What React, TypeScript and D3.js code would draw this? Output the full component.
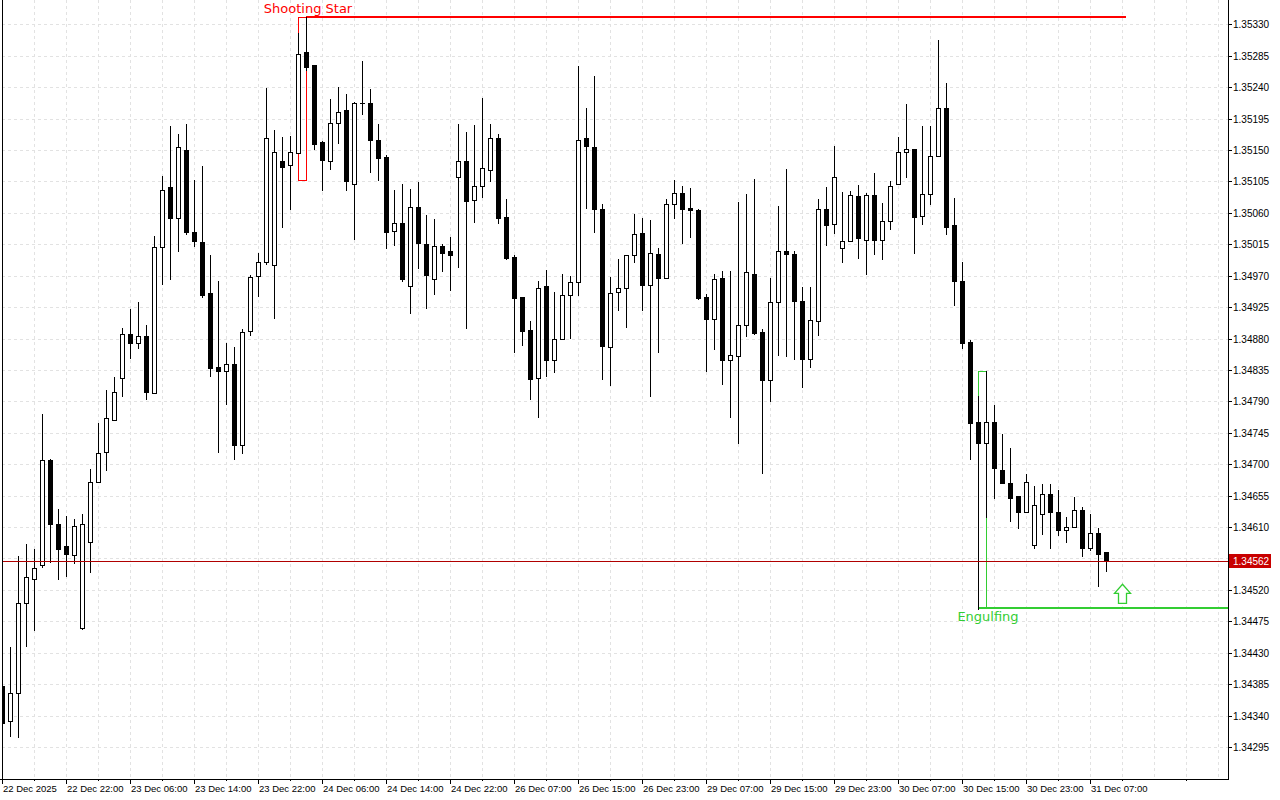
import React from "react";
import * as d3 from "d3";

const opens = [
  1.34382, 1.34332, 1.34373, 1.34501, 1.34535, 1.34555, 1.34706, 1.34615, 1.34583, 1.34570,
  1.34465, 1.34588, 1.34675, 1.34717, 1.34764, 1.34824, 1.34886, 1.34873, 1.34884, 1.34802,
  1.35011, 1.35097, 1.35052, 1.35150, 1.35033, 1.35018, 1.34945, 1.34839, 1.34834, 1.34844,
  1.34728, 1.34891, 1.34969, 1.34989, 1.34985, 1.35134, 1.35129, 1.35145, 1.35290, 1.35271,
  1.35162, 1.35134, 1.35188, 1.35207, 1.35101, 1.35218, 1.35217, 1.35165, 1.35140, 1.35034,
  1.35045, 1.34955, 1.35068, 1.35016, 1.34965, 1.35012, 1.35005, 1.35112, 1.35134, 1.35078,
  1.35099, 1.35122, 1.35167, 1.35054, 1.34997, 1.34939, 1.34892, 1.34824, 1.34955, 1.34849,
  1.34879, 1.34942, 1.34961, 1.35167, 1.35154, 1.35065, 1.34868, 1.34946, 1.34953, 1.34999,
  1.35031, 1.34956, 1.35001, 1.34966, 1.35072, 1.35088, 1.35067, 1.35064, 1.34939, 1.34908,
  1.34966, 1.34849, 1.34855, 1.34899, 1.34973, 1.34889, 1.34820, 1.34932, 1.35006, 1.35001,
  1.34934, 1.34851, 1.34905, 1.35065, 1.35044, 1.35009, 1.35019, 1.35084, 1.35021, 1.35085,
  1.35021, 1.35048, 1.35101, 1.35147, 1.35152, 1.35056, 1.35087, 1.35141, 1.35210, 1.35042,
  1.34962, 1.34875, 1.34760, 1.34730, 1.34761, 1.34692, 1.34673, 1.34654, 1.34632, 1.34585,
  1.34628, 1.34658, 1.34632, 1.34606, 1.34610, 1.34635, 1.34580, 1.34601, 1.34574,
];

const highs = [
  1.34391, 1.34438, 1.34568, 1.34586, 1.34579, 1.34772, 1.34708, 1.34636, 1.34626, 1.34621,
  1.34628, 1.34693, 1.34759, 1.34806, 1.34825, 1.34895, 1.34922, 1.34932, 1.34899, 1.35027,
  1.35113, 1.35184, 1.35173, 1.35187, 1.35107, 1.35127, 1.35000, 1.34963, 1.34874, 1.34868,
  1.34893, 1.34971, 1.35002, 1.35239, 1.35179, 1.35168, 1.35170, 1.35317, 1.35340, 1.35271,
  1.35163, 1.35223, 1.35240, 1.35230, 1.35219, 1.35277, 1.35237, 1.35187, 1.35143, 1.35093,
  1.35102, 1.35094, 1.35104, 1.35057, 1.35051, 1.35016, 1.35025, 1.35187, 1.35176, 1.35186,
  1.35225, 1.35187, 1.35173, 1.35080, 1.35000, 1.34939, 1.34905, 1.34962, 1.34978, 1.34947,
  1.34973, 1.34970, 1.35270, 1.35210, 1.35256, 1.35072, 1.34968, 1.34994, 1.34999, 1.35059,
  1.35053, 1.35050, 1.35010, 1.35080, 1.35107, 1.35098, 1.35095, 1.35066, 1.34944, 1.34972,
  1.34976, 1.34977, 1.35075, 1.35087, 1.35108, 1.34894, 1.34967, 1.35070, 1.35123, 1.35005,
  1.34954, 1.34954, 1.35080, 1.35097, 1.35155, 1.35090, 1.35091, 1.35100, 1.35089, 1.35117,
  1.35074, 1.35106, 1.35168, 1.35216, 1.35152, 1.35185, 1.35185, 1.35307, 1.35246, 1.35081,
  1.34990, 1.34878, 1.34797, 1.34833, 1.34785, 1.34743, 1.34723, 1.34654, 1.34686, 1.34669,
  1.34671, 1.34671, 1.34663, 1.34624, 1.34653, 1.34639, 1.34629, 1.34608, 1.34574,
];

const lows = [
  1.34322, 1.34311, 1.34310, 1.34440, 1.34463, 1.34553, 1.34560, 1.34536, 1.34540, 1.34559,
  1.34464, 1.34546, 1.34674, 1.34691, 1.34763, 1.34798, 1.34852, 1.34866, 1.34794, 1.34802,
  1.34958, 1.34965, 1.35005, 1.35029, 1.35013, 1.34940, 1.34827, 1.34718, 1.34786, 1.34707,
  1.34716, 1.34885, 1.34941, 1.34987, 1.34909, 1.35039, 1.35065, 1.35145, 1.35264, 1.35151,
  1.35092, 1.35123, 1.35160, 1.35092, 1.35023, 1.35202, 1.35119, 1.35107, 1.35009, 1.35014,
  1.34963, 1.34917, 1.34981, 1.34924, 1.34944, 1.34977, 1.34949, 1.34982, 1.34895, 1.35047,
  1.35082, 1.35105, 1.35046, 1.34994, 1.34861, 1.34871, 1.34794, 1.34768, 1.34827, 1.34832,
  1.34879, 1.34881, 1.34942, 1.35067, 1.35032, 1.34822, 1.34814, 1.34921, 1.34897, 1.34989,
  1.34921, 1.34798, 1.34861, 1.34966, 1.35052, 1.35017, 1.35026, 1.34936, 1.34834, 1.34865,
  1.34815, 1.34768, 1.34731, 1.34884, 1.34886, 1.34688, 1.34791, 1.34856, 1.34855, 1.34851,
  1.34811, 1.34839, 1.34885, 1.35014, 1.35031, 1.34990, 1.35019, 1.34995, 1.34972, 1.35001,
  1.34994, 1.35037, 1.35101, 1.35112, 1.35003, 1.35044, 1.35072, 1.35141, 1.35029, 1.34928,
  1.34866, 1.34708, 1.34493, 1.34625, 1.34651, 1.34673, 1.34618, 1.34608, 1.34632, 1.34580,
  1.34600, 1.34580, 1.34599, 1.34588, 1.34610, 1.34569, 1.34577, 1.34526, 1.34547,
];

const closes = [
  1.34330, 1.34372, 1.34501, 1.34538, 1.34552, 1.34706, 1.34615, 1.34578, 1.34572, 1.34611,
  1.34614, 1.34675, 1.34716, 1.34766, 1.34803, 1.34886, 1.34874, 1.34883, 1.34804, 1.35011,
  1.35092, 1.35052, 1.35154, 1.35033, 1.35019, 1.34942, 1.34838, 1.34834, 1.34844, 1.34728,
  1.34890, 1.34968, 1.34989, 1.35167, 1.35147, 1.35126, 1.35147, 1.35287, 1.35269, 1.35159,
  1.35135, 1.35188, 1.35205, 1.35105, 1.35217, 1.35218, 1.35165, 1.35139, 1.35032, 1.35045,
  1.34965, 1.35068, 1.35017, 1.34971, 1.35012, 1.35003, 1.34999, 1.35134, 1.35077, 1.35099,
  1.35124, 1.35167, 1.35052, 1.34995, 1.34938, 1.34891, 1.34822, 1.34952, 1.34849, 1.34879,
  1.34942, 1.34961, 1.35165, 1.35155, 1.35066, 1.34870, 1.34945, 1.34953, 1.34999, 1.35029,
  1.34956, 1.35002, 1.34966, 1.35072, 1.35089, 1.35066, 1.35064, 1.34938, 1.34908, 1.34965,
  1.34849, 1.34856, 1.34900, 1.34975, 1.34888, 1.34821, 1.34932, 1.35005, 1.35001, 1.34934,
  1.34850, 1.34906, 1.35066, 1.35042, 1.35112, 1.35019, 1.35085, 1.35024, 1.35085, 1.35021,
  1.35049, 1.35099, 1.35147, 1.35152, 1.35054, 1.35087, 1.35142, 1.35210, 1.35039, 1.34963,
  1.34874, 1.34759, 1.34731, 1.34761, 1.34694, 1.34673, 1.34651, 1.34632, 1.34675, 1.34641,
  1.34658, 1.34631, 1.34606, 1.34610, 1.34635, 1.34580, 1.34602, 1.34572, 1.34562,
];

const timeLabels = [
  "22 Dec 2025", "22 Dec 22:00", "23 Dec 06:00", "23 Dec 14:00", "23 Dec 22:00",
  "24 Dec 06:00", "24 Dec 14:00", "24 Dec 22:00", "26 Dec 07:00", "26 Dec 15:00",
  "26 Dec 23:00", "29 Dec 07:00", "29 Dec 15:00", "29 Dec 23:00", "30 Dec 07:00",
  "30 Dec 15:00", "30 Dec 23:00", "31 Dec 07:00",
];
const timeLabelBars = [0, 8, 16, 24, 32, 40, 48, 56, 64, 72, 80, 88, 96, 104, 112, 120, 128, 136];

const priceTicks = [
  "1.35330", "1.35285", "1.35240", "1.35195", "1.35150", "1.35105", "1.35060", "1.35015",
  "1.34970", "1.34925", "1.34880", "1.34835", "1.34790", "1.34745", "1.34700", "1.34655",
  "1.34610", "1.34565", "1.34520", "1.34475", "1.34430", "1.34385", "1.34340", "1.34295",
];

const currentPrice = 1.34562;

// pattern annotations (bar indices and prices)
const shootingStarBars = [37, 38];
const shootingStarRange = [1.35107, 1.3534];
const shootingStarLineEnd = 140.5;
const engulfingBars = [122, 123];
const engulfingRange = [1.34493, 1.34833];
const arrowBar = 140;
const arrowPrice = 1.34528;

const W = 1280;
const H = 800;
const PLOT_LEFT = 2;
const PLOT_RIGHT = 1228;
const PLOT_BOTTOM = 779;

const RED = "#ff0000";
const GREEN = "#32cd32";
const FONT = "'Liberation Sans', Arial, sans-serif";
const LABEL_FONT = "'DejaVu Sans', Verdana, sans-serif";

export default function App() {
  const x = d3.scaleLinear().domain([0, 138]).range([2, 1106]);
  const y = d3.scaleLinear().domain([1.34295, 1.3533]).range([747, 24.3]);
  const bars = d3.range(opens.length);

  const vGrid: number[] = [];
  for (let i = 4; x(i) < PLOT_RIGHT; i += 4) vGrid.push(i);

  const minorTicks: number[] = [];
  for (let i = 4; x(i) < PLOT_RIGHT; i += 4) if (i % 8 !== 0) minorTicks.push(i);

  const priceY = Math.round(y(currentPrice));
  const ax = Math.round(x(arrowBar)) + 0.5;
  const ay = y(arrowPrice);

  const ssx0 = Math.round(x(shootingStarBars[0])) + 0.5;
  const ssx1 = Math.round(x(shootingStarBars[1])) + 0.5;
  const ssTop = Math.round(y(shootingStarRange[1]));
  const ssBot = Math.round(y(shootingStarRange[0]));

  const enx0 = Math.round(x(engulfingBars[0])) + 0.5;
  const enx1 = Math.round(x(engulfingBars[1])) + 0.5;
  const enTop = Math.round(y(engulfingRange[1]));
  const enBot = Math.floor(y(engulfingRange[0]));

  return (
    <svg
      width={W}
      height={H}
      style={{ position: "absolute", left: 0, top: 0, display: "block", background: "#ffffff" }}
    >
      <defs>
        <clipPath id="plot">
          <rect x={PLOT_LEFT} y={0} width={PLOT_RIGHT - PLOT_LEFT} height={PLOT_BOTTOM} />
        </clipPath>
      </defs>
      <rect x={0} y={0} width={W} height={H} fill="#ffffff" />

      {/* grid */}
      <g stroke="#e2e2e2" strokeWidth={1} strokeDasharray="3,3" shapeRendering="crispEdges">
        {priceTicks.map((t) => {
          const yy = Math.round(y(+t)) + 0.5;
          return <line key={"h" + t} x1={PLOT_LEFT} x2={PLOT_RIGHT} y1={yy} y2={yy} />;
        })}
        {vGrid.map((i) => {
          const xx = Math.round(x(i)) + 0.5;
          return <line key={"v" + i} x1={xx} x2={xx} y1={0} y2={PLOT_BOTTOM} />;
        })}
      </g>

      <g clipPath="url(#plot)">
        {/* pattern boxes */}
        <rect
          x={ssx0}
          y={ssTop + 0.5}
          width={ssx1 - ssx0}
          height={ssBot - ssTop}
          fill="none"
          stroke={RED}
          strokeWidth={1}
          shapeRendering="crispEdges"
        />
        <line
          x1={Math.round(x(shootingStarBars[1]))}
          x2={x(shootingStarLineEnd)}
          y1={ssTop}
          y2={ssTop}
          stroke={RED}
          strokeWidth={2}
          shapeRendering="crispEdges"
        />
        <rect
          x={enx0}
          y={enTop + 0.5}
          width={enx1 - enx0}
          height={enBot - enTop}
          fill="none"
          stroke={GREEN}
          strokeWidth={1}
          shapeRendering="crispEdges"
        />
        <line
          x1={enx0 - 0.5}
          x2={PLOT_RIGHT}
          y1={enBot}
          y2={enBot}
          stroke={GREEN}
          strokeWidth={2}
          shapeRendering="crispEdges"
        />

        {/* candles */}
        <g shapeRendering="crispEdges">
          {bars.map((i) => {
            const o = opens[i];
            const c = closes[i];
            const cx = Math.round(x(i));
            const hy = Math.round(y(highs[i]));
            const ly = Math.round(y(lows[i]));
            const top = Math.round(y(Math.max(o, c)));
            const bot = Math.round(y(Math.min(o, c)));
            const bull = c > o;
            return (
              <g key={i}>
                <line x1={cx + 0.5} x2={cx + 0.5} y1={hy} y2={ly + 1} stroke="#000" strokeWidth={1} />
                {bot - top < 1 ? (
                  <line x1={cx - 2} x2={cx + 3} y1={top + 0.5} y2={top + 0.5} stroke="#000" strokeWidth={1} />
                ) : (
                  <rect
                    x={cx - 1.5}
                    y={top + 0.5}
                    width={4}
                    height={bot - top}
                    fill={bull ? "#ffffff" : "#000000"}
                    stroke="#000"
                    strokeWidth={1}
                  />
                )}
              </g>
            );
          })}
        </g>

        {/* current price line */}
        <line
          x1={PLOT_LEFT}
          x2={PLOT_RIGHT}
          y1={priceY + 0.5}
          y2={priceY + 0.5}
          stroke="#b00000"
          strokeWidth={1}
          shapeRendering="crispEdges"
        />

        {/* arrow */}
        <path
          d={`M${ax},${ay} L${ax + 8},${ay + 9} L${ax + 4},${ay + 9} L${ax + 4},${ay + 19} L${ax - 4},${ay + 19} L${ax - 4},${ay + 9} L${ax - 8},${ay + 9} Z`}
          fill="#ffffff"
          stroke={GREEN}
          strokeWidth={1.3}
        />
      </g>

      {/* pattern labels */}
      <text x={x(shootingStarBars[1]) + 2} y={13} textAnchor="middle" fontFamily={LABEL_FONT} fontSize={13} fill={RED}>
        Shooting Star
      </text>
      <text x={x(engulfingBars[1]) + 2} y={621} textAnchor="middle" fontFamily={LABEL_FONT} fontSize={13} fill={GREEN}>
        Engulfing
      </text>

      {/* frame */}
      <g stroke="#000" strokeWidth={1} shapeRendering="crispEdges">
        <line x1={PLOT_LEFT + 0.5} x2={PLOT_LEFT + 0.5} y1={0} y2={PLOT_BOTTOM + 1} />
        <line x1={PLOT_RIGHT + 0.5} x2={PLOT_RIGHT + 0.5} y1={0} y2={PLOT_BOTTOM + 1} />
        <line x1={0} x2={PLOT_RIGHT + 1} y1={PLOT_BOTTOM + 0.5} y2={PLOT_BOTTOM + 0.5} />
      </g>

      {/* price axis */}
      <g fontFamily={FONT} fontSize={10} fill="#000">
        {priceTicks.map((t) => {
          const yy = Math.round(y(+t)) + 0.5;
          const hidden = Math.abs(yy - priceY) < 10;
          return (
            <g key={"p" + t}>
              <line x1={PLOT_RIGHT} x2={PLOT_RIGHT + 4} y1={yy} y2={yy} stroke="#000" shapeRendering="crispEdges" />
              {!hidden && (
                <text x={PLOT_RIGHT + 5} y={yy + 3.6}>
                  {t}
                </text>
              )}
            </g>
          );
        })}
      </g>

      {/* current price tag */}
      <rect x={PLOT_RIGHT + 1} y={priceY - 7} width={42} height={14} fill="#c80000" />
      <text x={PLOT_RIGHT + 5} y={priceY + 4} fontFamily={FONT} fontSize={10} fill="#ffffff">
        {currentPrice.toFixed(5)}
      </text>

      {/* time axis */}
      <g fontFamily={FONT} fontSize={9.5} fill="#000">
        {timeLabelBars.map((b, j) => {
          const xx = Math.round(x(b)) + 0.5;
          return (
            <g key={"t" + b}>
              <line x1={xx} x2={xx} y1={PLOT_BOTTOM} y2={PLOT_BOTTOM + 5} stroke="#000" shapeRendering="crispEdges" />
              <text x={xx + 0.5} y={792}>
                {timeLabels[j]}
              </text>
            </g>
          );
        })}
        {minorTicks.map((b) => {
          const xx = Math.round(x(b)) + 0.5;
          return <line key={"m" + b} x1={xx} x2={xx} y1={PLOT_BOTTOM} y2={PLOT_BOTTOM + 2} stroke="#000" shapeRendering="crispEdges" />;
        })}
      </g>
    </svg>
  );
}
